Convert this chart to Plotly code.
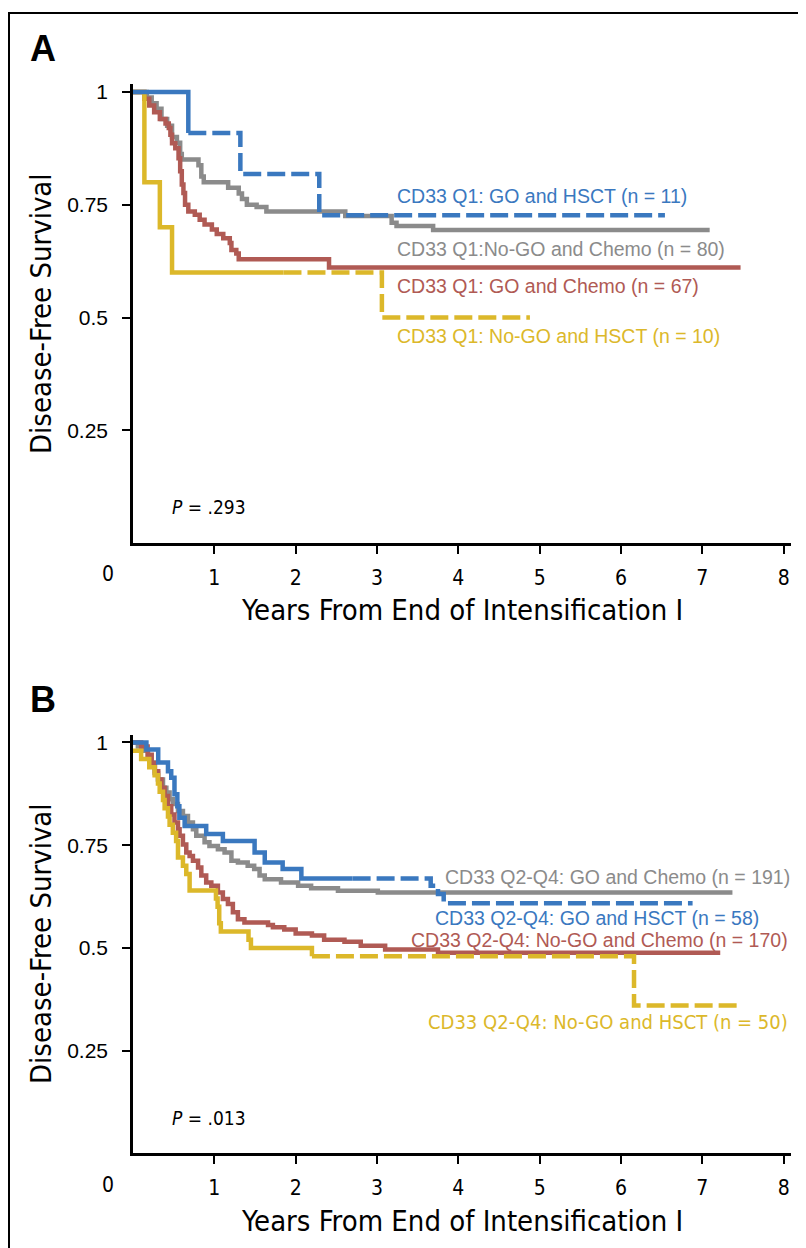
import plotly.graph_objects as go

W, H = 806, 1248

# ---------------- Panel A data (years, disease-free survival) ----------------
a_go_hsct_t = [0, 0.68, 1.32, 2.29]
a_go_hsct_s = [1.0, 0.909, 0.818, 0.727]
a_go_hsct_end = 6.54

a_nogo_chemo_t = [0, 0.17, 0.23, 0.29, 0.35, 0.42, 0.48, 0.54, 0.58, 0.60, 0.805, 0.84, 0.87,
                  1.17, 1.30, 1.34, 1.40, 1.52, 1.64, 2.61, 3.18, 3.24, 3.69]
a_nogo_chemo_s = [1.0, 0.9875, 0.975, 0.9625, 0.94, 0.925, 0.90, 0.8875, 0.8625, 0.85, 0.8375, 0.8125, 0.80,
                  0.7875, 0.775, 0.7625, 0.75, 0.745, 0.735, 0.725, 0.71, 0.703, 0.694]
a_nogo_chemo_end = 7.09

a_go_chemo_t = [0, 0.14, 0.20, 0.26, 0.33, 0.40, 0.44, 0.46, 0.48, 0.52, 0.56, 0.58, 0.60, 0.62, 0.64,
                0.68, 0.76, 0.82, 0.88, 0.97, 1.03, 1.11, 1.19, 1.21, 1.27, 1.30, 2.41]
a_go_chemo_s = [1.0, 0.985, 0.97, 0.955, 0.94, 0.93, 0.92, 0.905, 0.886, 0.875, 0.853, 0.824, 0.795, 0.776, 0.75,
                0.735, 0.728, 0.717, 0.706, 0.695, 0.685, 0.676, 0.665, 0.65, 0.642, 0.629, 0.611]
a_go_chemo_end = 7.47

a_nogo_hsct_t = [0, 0.14, 0.33, 0.48, 3.06]
a_nogo_hsct_s = [1.0, 0.8, 0.7, 0.6, 0.5]
a_nogo_hsct_end = 4.88

# ---------------- Panel B data ----------------
b_go_chemo_t = [0, 0.06, 0.12, 0.185, 0.225, 0.266, 0.307, 0.369, 0.41, 0.45, 0.49, 0.553, 0.614, 0.676,
                0.737, 0.778, 0.88, 0.94, 1.044, 1.126, 1.21, 1.29, 1.41, 1.49, 1.556, 1.62, 1.82, 2.03,
                2.19, 2.52, 3.01]
b_go_chemo_s = [1.0, 0.99, 0.98, 0.967, 0.951, 0.926, 0.910, 0.890, 0.878, 0.862, 0.850, 0.833, 0.821, 0.805,
                0.789, 0.773, 0.757, 0.748, 0.740, 0.732, 0.712, 0.708, 0.700, 0.692, 0.676, 0.667, 0.659, 0.651,
                0.645, 0.639, 0.635]
b_go_chemo_end = 7.37

b_go_hsct_t = [0, 0.165, 0.31, 0.43, 0.47, 0.51, 0.545, 0.57, 0.635, 0.90, 1.105, 1.495, 1.62, 1.84,
               2.07, 3.66, 3.75, 3.82]
b_go_hsct_s = [1.0, 0.983, 0.951, 0.930, 0.914, 0.874, 0.845, 0.817, 0.797, 0.777, 0.760, 0.732, 0.708, 0.692,
               0.669, 0.651, 0.631, 0.609]
b_go_hsct_end = 6.88

b_nogo_chemo_t = [0, 0.10, 0.18, 0.23, 0.27, 0.31, 0.35, 0.389, 0.43, 0.47, 0.51, 0.553, 0.573, 0.614, 0.655,
                  0.696, 0.737, 0.80, 0.84, 0.90, 0.963, 1.044, 1.105, 1.167, 1.228, 1.29, 1.37, 1.66, 1.72,
                  1.86, 2.0, 2.2, 2.35, 2.6, 2.8, 3.1, 3.75]
b_nogo_chemo_s = [1.0, 0.99, 0.97, 0.95, 0.93, 0.91, 0.89, 0.870, 0.845, 0.825, 0.805, 0.789, 0.773, 0.752, 0.732,
                  0.724, 0.712, 0.696, 0.676, 0.659, 0.651, 0.635, 0.619, 0.607, 0.587, 0.570, 0.562, 0.556, 0.550,
                  0.545, 0.535, 0.530, 0.520, 0.515, 0.505, 0.496, 0.488]
b_nogo_chemo_end = 7.22

b_nogo_hsct_t = [0, 0.10, 0.20, 0.266, 0.307, 0.328, 0.369, 0.389, 0.43, 0.45, 0.49, 0.53, 0.553, 0.614,
                 0.655, 0.696, 1.02, 1.04, 1.06, 1.08, 1.42, 1.45, 2.2, 6.16]
b_nogo_hsct_s = [0.98, 0.96, 0.94, 0.92, 0.90, 0.88, 0.86, 0.84, 0.82, 0.80, 0.78, 0.76, 0.72, 0.70,
                 0.68, 0.64, 0.62, 0.60, 0.56, 0.54, 0.52, 0.50, 0.48, 0.36]
b_nogo_hsct_end = 7.47

# ---------------- labels ----------------
x_ticks = [1, 2, 3, 4, 5, 6, 7, 8]
y_ticks = [0.25, 0.5, 0.75, 1]
y_ticktext = ["0.25", "0.5", "0.75", "1"]
x_title = "Years From End of Intensification I"
y_title = "Disease-Free Survival"

BLUE = "#3a78bf"
GRAY = "#8b8b8b"
RED = "#b05a54"
YELLOW = "#dcb82a"

NARROW = "Liberation Sans Narrow, Arial Narrow, DejaVu Sans Condensed, sans-serif"
SANS = "Liberation Sans, Arial, Helvetica, sans-serif"
LW = 4.5
DASH = "18px,6px"

fig = go.Figure()


def level_at(t, s, x):
    v = s[0]
    for ti, si in zip(t, s):
        if ti <= x:
            v = si
    return v


def add_curve(t, s, end, color, xa, ya, split=None):
    if split is None:
        fig.add_trace(go.Scatter(x=list(t) + [end], y=list(s) + [s[-1]], mode="lines",
                                 line=dict(color=color, width=LW, shape="hv"),
                                 xaxis=xa, yaxis=ya, showlegend=False, hoverinfo="skip"))
        return
    lv = level_at(t, s, split)
    x1 = [ti for ti in t if ti <= split] + [split]
    y1 = [si for ti, si in zip(t, s) if ti <= split] + [lv]
    x2 = [split] + [ti for ti in t if ti > split] + [end]
    y2 = [lv] + [si for ti, si in zip(t, s) if ti > split] + [s[-1]]
    fig.add_trace(go.Scatter(x=x1, y=y1, mode="lines",
                             line=dict(color=color, width=LW, shape="hv"),
                             xaxis=xa, yaxis=ya, showlegend=False, hoverinfo="skip"))
    fig.add_trace(go.Scatter(x=x2, y=y2, mode="lines",
                             line=dict(color=color, width=LW, shape="hv", dash=DASH),
                             xaxis=xa, yaxis=ya, showlegend=False, hoverinfo="skip"))


# Panel A
add_curve(a_nogo_chemo_t, a_nogo_chemo_s, a_nogo_chemo_end, GRAY, "x", "y")
add_curve(a_go_chemo_t, a_go_chemo_s, a_go_chemo_end, RED, "x", "y")
add_curve(a_nogo_hsct_t, a_nogo_hsct_s, a_nogo_hsct_end, YELLOW, "x", "y", split=1.85)
add_curve(a_go_hsct_t, a_go_hsct_s, a_go_hsct_end, BLUE, "x", "y", split=0.68)

# Panel B
add_curve(b_go_chemo_t, b_go_chemo_s, b_go_chemo_end, GRAY, "x2", "y2")
add_curve(b_nogo_chemo_t, b_nogo_chemo_s, b_nogo_chemo_end, RED, "x2", "y2")
add_curve(b_nogo_hsct_t, b_nogo_hsct_s, b_nogo_hsct_end, YELLOW, "x2", "y2", split=2.2)
add_curve(b_go_hsct_t, b_go_hsct_s, b_go_hsct_end, BLUE, "x2", "y2", split=2.7)


def px_x(p):
    return p / W


def px_y(p):
    return 1 - p / H


X_DOM = [px_x(125), px_x(783)]
YA_DOM = [px_y(533), px_y(72)]
YB_DOM = [px_y(1145), px_y(725)]

xaxis_common = dict(range=[0, 8.09], tickvals=x_ticks, ticks="outside", ticklen=8, tickwidth=2,
                    tickcolor="black", showline=True, linewidth=2.5, linecolor="black",
                    showgrid=False, zeroline=False, domain=X_DOM,
                    tickfont=dict(family=NARROW, size=21, color="black"), ticklabelstandoff=6)
yaxis_common = dict(tickvals=y_ticks, ticktext=y_ticktext, ticks="outside", ticklen=8, tickwidth=2,
                    tickcolor="black", showline=True, linewidth=2.5, linecolor="black",
                    showgrid=False, zeroline=False,
                    tickfont=dict(family=SANS, size=21, color="black"), ticklabelstandoff=10)

fig.update_layout(
    width=W, height=H, autosize=False,
    margin=dict(l=0, r=0, t=0, b=0, pad=0),
    paper_bgcolor="white", plot_bgcolor="white",
    xaxis=dict(anchor="y", **xaxis_common),
    yaxis=dict(anchor="x", domain=YA_DOM, range=[0, 1.018], **yaxis_common),
    xaxis2=dict(anchor="y2", **xaxis_common),
    yaxis2=dict(anchor="x2", domain=YB_DOM, range=[0, 1.019], **yaxis_common),
)

ann = []


def add_text(text, x, y, size, color="black", family=SANS, xanchor="left", angle=0):
    ann.append(dict(text=text, x=px_x(x), y=px_y(y), xref="paper", yref="paper",
                    xanchor=xanchor, yanchor="middle", showarrow=False, textangle=angle,
                    font=dict(family=family, size=size, color=color)))


# panel letters
add_text("<b>A</b>", 35, 37, 36, xanchor="center")
add_text("<b>B</b>", 35, 690, 36, xanchor="center")

# axis titles
for yc, ym in [(600, 303), (1213, 935)]:
    add_text(x_title, 454, yc, 29, family=NARROW, xanchor="center")
    add_text(y_title, 33, ym, 29, family=NARROW, xanchor="center", angle=-90)
    add_text("0", 100, yc - 36, 21, family=NARROW, xanchor="center")

# p values
add_text("<i>P</i> = .293", 162, 497, 19, family=NARROW)
add_text("<i>P</i> = .013", 162, 1110, 19, family=NARROW)

# curve labels panel A
add_text("CD33 Q1: GO and HSCT (n = 11)", 387, 185, 19.5, color=BLUE)
add_text("CD33 Q1:No-GO and Chemo (n = 80)", 387, 238, 19.5, color=GRAY)
add_text("CD33 Q1: GO and Chemo (n = 67)", 387, 275, 19.5, color=RED)
add_text("CD33 Q1: No-GO and HSCT (n = 10)", 387, 325, 19.5, color=YELLOW)

# curve labels panel B
add_text("CD33 Q2-Q4: GO and Chemo (n = 191)", 435, 868, 19.5, color=GRAY)
add_text("CD33 Q2-Q4: GO and HSCT (n = 58)", 425, 909, 19.5, color=BLUE)
add_text("CD33 Q2-Q4: No-GO and Chemo (n = 170)", 401, 931, 19.5, color=RED)
add_text("CD33 Q2-Q4: No-GO and HSCT (n = 50)", 782, 1013, 20, color=YELLOW, family=NARROW,
         xanchor="right")

fig.update_layout(annotations=ann)

# outer frame
fig.add_shape(type="rect", xref="paper", yref="paper", x0=1 / W, x1=1 - 1 / W, y0=1 / H, y1=1 - 1 / H,
              line=dict(color="black", width=2))

fig.write_html("out.html")
